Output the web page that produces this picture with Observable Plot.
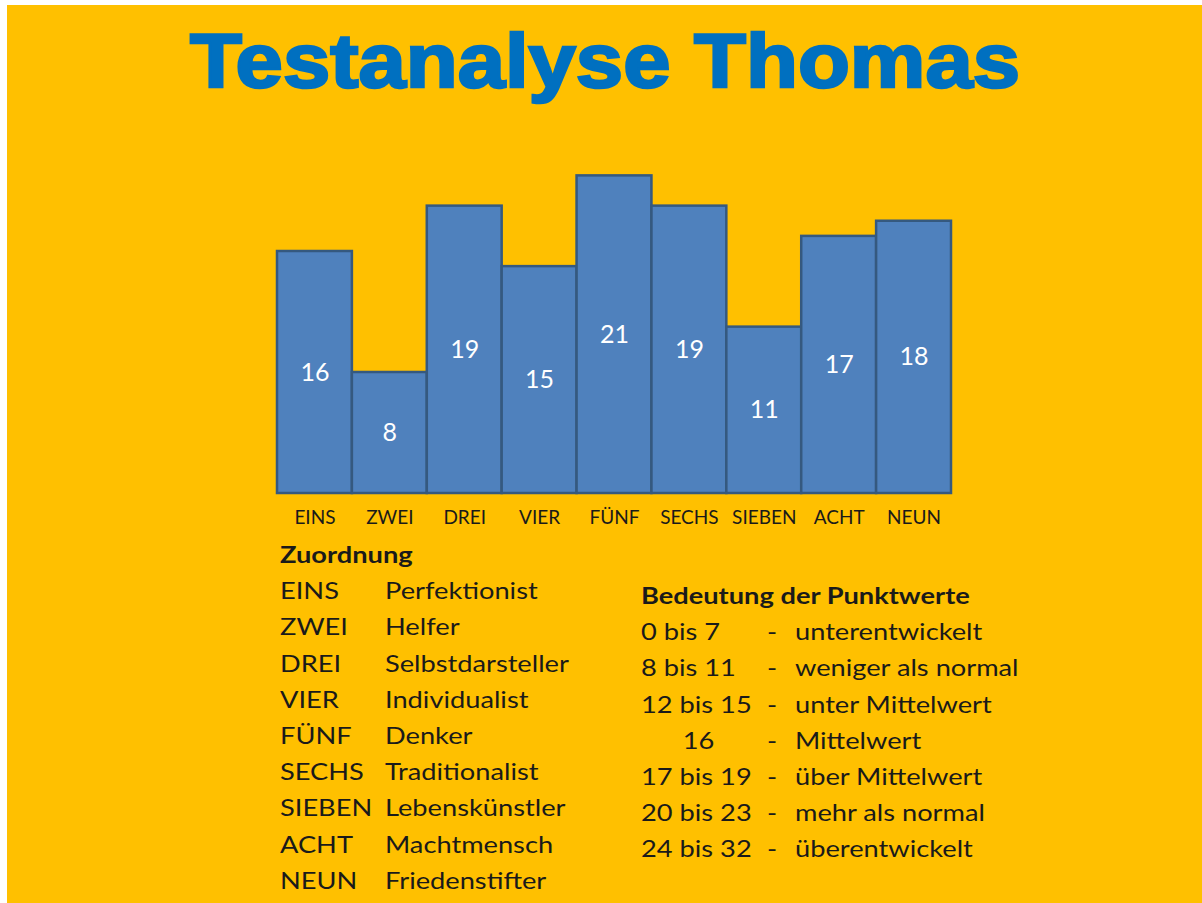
<!DOCTYPE html>
<html>
<head>
<meta charset="utf-8">
<script src="https://cdn.jsdelivr.net/npm/d3@7"></script>
<script src="https://cdn.jsdelivr.net/npm/@observablehq/plot@0.6"></script>
<style>
  html, body { margin: 0; padding: 0; background: #ffffff; }
  #page { position: absolute; left: 7px; top: 5px; width: 1195px; height: 898px; background: #FFC000; }
  #wrap { position: absolute; left: 0; top: 0; width: 1202px; height: 903px; overflow: hidden; }
  #title { position: absolute; left: 0; top: 0; width: 1202px; height: 110px; }
  #title span { position: absolute; font-family: "Liberation Sans", Arial, sans-serif; font-weight: bold;
    font-size: 76px; color: #0070C0; -webkit-text-stroke: 2.5px #0070C0; white-space: nowrap; line-height: 1; transform-origin: 0 0; }
  #chart { position: absolute; left: 0; top: 0; }
  .block { position: absolute; font-family: Lato, "Open Sans", sans-serif; font-size: 22.5px; color: #1a1a1a; line-height: 36.2px; white-space: pre; }
  .row { position: relative; height: 36.2px; }
  .row span { position: absolute; top: 0; transform: scaleX(1.21); transform-origin: 0 50%; }
  .row.h span { font-weight: bold; }
</style>
</head>
<body>
<div id="wrap">
  <div id="page"></div>
  <div id="title"><span id="tt">Testanalyse Thomas</span></div>
  <div id="chart"></div>
  <div class="block" id="zu" style="left:280px; top:537px;"></div>
  <div class="block" id="be" style="left:641px; top:578px;"></div>
</div>
<script>
// ---- data ----
const titleText = "Testanalyse Thomas";
const categories = ["EINS", "ZWEI", "DREI", "VIER", "FÜNF", "SECHS", "SIEBEN", "ACHT", "NEUN"];
const values = [16, 8, 19, 15, 21, 19, 11, 17, 18];
const zuordnungTitle = "Zuordnung";
const types = ["Perfektionist", "Helfer", "Selbstdarsteller", "Individualist", "Denker", "Traditionalist", "Lebenskünstler", "Machtmensch", "Friedenstifter"];
const bedeutungTitle = "Bedeutung der Punktwerte";
const ranges = ["0 bis 7", "8 bis 11", "12 bis 15", "      16", "17 bis 19", "20 bis 23", "24 bis 32"];
const meanings = ["unterentwickelt", "weniger als normal", "unter Mittelwert", "Mittelwert", "über Mittelwert", "mehr als normal", "überentwickelt"];

const data = categories.map((c, i) => ({cat: c, value: values[i]}));

// ---- title ----
const tt = document.getElementById("tt");
tt.textContent = titleText;
const w = tt.getBoundingClientRect().width;
const targetW = 830;
tt.style.transform = `scaleX(${targetW / w})`;
tt.style.left = (605 - targetW / 2) + "px";
tt.style.top = "23px";

// ---- chart ----
const chart = Plot.plot({
  width: 1202,
  height: 540,
  marginLeft: 277,
  marginRight: 251,
  marginTop: 130,
  marginBottom: 47,
  style: {background: "transparent", fontFamily: "Lato, sans-serif", fontSize: "19px", color: "#1a1a1a", overflow: "visible"},
  x: {domain: categories, padding: 0, round: false, label: null},
  y: {domain: [0, 24], axis: null},
  marks: [
    Plot.barY(data, {x: "cat", y: "value", fill: "#4F81BD", stroke: "#35597F", strokeWidth: 2.5, inset: 0}),
    Plot.text(data, {x: "cat", y: d => d.value / 2, text: d => String(d.value), fill: "white", fontSize: 25, fontFamily: "Lato, sans-serif"}),
    Plot.axisX({tickSize: 0, tickPadding: 17, fontSize: 19, fill: "#1a1a1a"})
  ]
});
document.getElementById("chart").appendChild(chart);

// ---- text blocks ----
function cell(row, txt, left) {
  const s = document.createElement("span"); s.textContent = txt; s.style.left = left + "px"; row.appendChild(s);
}
const zu = document.getElementById("zu");
const zh = document.createElement("div"); zh.className = "row h"; cell(zh, zuordnungTitle, 0); zu.appendChild(zh);
categories.forEach((c, i) => {
  const r = document.createElement("div"); r.className = "row";
  cell(r, c, 0); cell(r, types[i], 105);
  zu.appendChild(r);
});
const be = document.getElementById("be");
const bh = document.createElement("div"); bh.className = "row h"; cell(bh, bedeutungTitle, 0); be.appendChild(bh);
ranges.forEach((rg, i) => {
  const r = document.createElement("div"); r.className = "row";
  cell(r, rg, 0); cell(r, "-", 126); cell(r, meanings[i], 154);
  be.appendChild(r);
});
</script>
</body>
</html>
